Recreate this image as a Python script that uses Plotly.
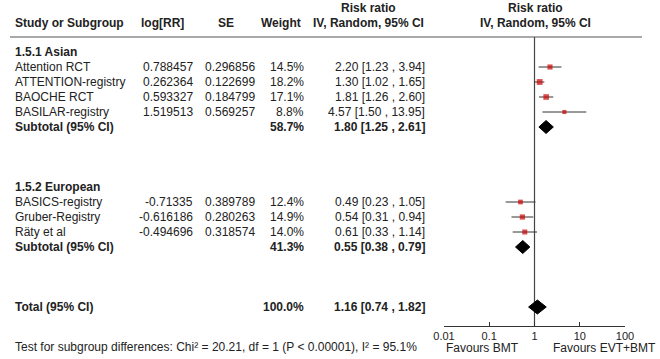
import plotly.graph_objects as go

# ---------------- data ----------------
asian_names = ["Attention RCT", "ATTENTION-registry", "BAOCHE RCT", "BASILAR-registry"]
asian_logrr = [0.788457, 0.262364, 0.593327, 1.519513]
asian_se = [0.296856, 0.122699, 0.184799, 0.569257]
asian_weight = [14.5, 18.2, 17.1, 8.8]
asian_rr = [2.20, 1.30, 1.81, 4.57]
asian_lo = [1.23, 1.02, 1.26, 1.50]
asian_hi = [3.94, 1.65, 2.60, 13.95]

euro_names = ["BASICS-registry", "Gruber-Registry", "Räty et al"]
euro_logrr = [-0.71335, -0.616186, -0.494696]
euro_se = [0.389789, 0.280263, 0.318574]
euro_weight = [12.4, 14.9, 14.0]
euro_rr = [0.49, 0.54, 0.61]
euro_lo = [0.23, 0.31, 0.33]
euro_hi = [1.05, 0.94, 1.14]

group_labels = ["1.5.1 Asian", "1.5.2 European"]
subtotal_weight = [58.7, 41.3]
subtotal_rr = [1.80, 0.55]
subtotal_lo = [1.25, 0.38]
subtotal_hi = [2.61, 0.79]

total_weight = 100.0
total_rr = 1.16
total_lo = 0.74
total_hi = 1.82

tick_vals = [0.01, 0.1, 1, 10, 100]
tick_text = ["0.01", "0.1", "1", "10", "100"]
favours_left = "Favours BMT"
favours_right = "Favours EVT+BMT"
test_text = "Test for subgroup differences: Chi² = 20.21, df = 1 (P < 0.00001), I² = 95.1%"

# ---------------- layout helpers ----------------
W, H = 660, 359
FONT = "Liberation Sans, Arial, sans-serif"
TXT = "#222222"
FS = 12
ROW0, ROWH = 52, 15
AXIS_Y = 326


def ry(i):
    return ROW0 + ROWH * i


def px(x):
    return x / W


annotations = []


def txt(x, y, s, anchor="left", bold=False, size=FS):
    annotations.append(dict(
        x=px(x), y=y, xref="paper", yref="y", text=("<b>%s</b>" % s) if bold else s,
        showarrow=False, xanchor=anchor, yanchor="middle",
        font=dict(family=FONT, size=size, color=TXT)))


# header
txt(13, 23, "Study or Subgroup", bold=True)
txt(162, 23, "log[RR]", anchor="center", bold=True)
txt(226, 23, "SE", anchor="center", bold=True)
txt(281, 23, "Weight", anchor="center", bold=True)
txt(368, 8, "Risk ratio", anchor="center", bold=True)
txt(368, 23, "IV, Random, 95% CI", anchor="center", bold=True)
txt(535, 8, "Risk ratio", anchor="center", bold=True)
txt(535, 23, "IV, Random, 95% CI", anchor="center", bold=True)

groups = [
    (asian_names, asian_logrr, asian_se, asian_weight, asian_rr, asian_lo, asian_hi, 0),
    (euro_names, euro_logrr, euro_se, euro_weight, euro_rr, euro_lo, euro_hi, 9),
]

ci_x, ci_y, sq_x, sq_y, sq_s = [], [], [], [], []
diamonds = []

for gi, (names, lr, se, w, rr, lo, hi, start) in enumerate(groups):
    txt(13, ry(start), group_labels[gi], bold=True)
    for k in range(len(names)):
        y = ry(start + 1 + k)
        txt(13, y, names[k])
        txt(195, y, repr(lr[k]), anchor="right")
        txt(257, y, repr(se[k]), anchor="right")
        txt(306, y, "%.1f%%" % w[k], anchor="right")
        txt(427, y, "%.2f [%.2f , %.2f]" % (rr[k], lo[k], hi[k]), anchor="right")
        ci_x += [lo[k], hi[k], None]
        ci_y += [y, y, None]
        sq_x.append(rr[k])
        sq_y.append(y)
        sq_s.append(2.5 + w[k] / 5.5)
    ys = ry(start + 1 + len(names))
    txt(13, ys, "Subtotal (95% CI)", bold=True)
    txt(306, ys, "%.1f%%" % subtotal_weight[gi], anchor="right", bold=True)
    txt(427, ys, "%.2f [%.2f , %.2f]" % (subtotal_rr[gi], subtotal_lo[gi], subtotal_hi[gi]),
        anchor="right", bold=True)
    diamonds.append((subtotal_lo[gi], subtotal_rr[gi], subtotal_hi[gi], ys, 6.5))

yt = ry(17)
txt(13, yt, "Total (95% CI)", bold=True)
txt(306, yt, "%.1f%%" % total_weight, anchor="right", bold=True)
txt(427, yt, "%.2f [%.2f , %.2f]" % (total_rr, total_lo, total_hi), anchor="right", bold=True)
diamonds.append((total_lo, total_rr, total_hi, yt, 7))

txt(13, 347, test_text)
txt(482, 348, favours_left, anchor="center")
txt(604, 348, favours_right, anchor="center")

fig = go.Figure()

fig.add_trace(go.Scatter(x=ci_x, y=ci_y, mode="lines",
                         line=dict(color="#333333", width=1), hoverinfo="skip", cliponaxis=False))
fig.add_trace(go.Scatter(x=sq_x, y=sq_y, mode="markers",
                         marker=dict(symbol="square", color="#cc0000", size=sq_s, line=dict(width=0)),
                         hoverinfo="skip", cliponaxis=False))
for lo, est, hi, yc, h in diamonds:
    fig.add_trace(go.Scatter(x=[lo, est, hi, est, lo], y=[yc, yc - h, yc, yc + h, yc],
                             mode="lines", fill="toself", fillcolor="black",
                             line=dict(color="black", width=1), hoverinfo="skip"))

shapes = [
    dict(type="line", xref="paper", yref="y", x0=px(10), x1=px(642), y0=37, y1=37,
         line=dict(color="#555555", width=1.2)),
    dict(type="line", xref="x", yref="y", x0=1, x1=1, y0=37, y1=AXIS_Y,
         line=dict(color="#444444", width=1.2), layer="below"),
]

fig.update_layout(
    width=W, height=H,
    autosize=False,
    margin=dict(l=0, r=0, t=0, b=0, pad=0, autoexpand=False),
    paper_bgcolor="white", plot_bgcolor="white",
    showlegend=False,
    annotations=annotations,
    shapes=shapes,
    xaxis=dict(type="log", range=[-2, 2], domain=[px(444), px(625)],
               anchor="free", position=1 - AXIS_Y / H,
               tickvals=tick_vals, ticktext=tick_text,
               ticks="inside", ticklen=4, tickcolor="#333333",
               showline=True, linecolor="#333333", linewidth=1,
               showgrid=False, zeroline=False,
               tickfont=dict(family=FONT, size=11, color=TXT)),
    yaxis=dict(range=[H, 0], domain=[0, 1], visible=False, showgrid=False, zeroline=False),
)

fig.write_html(
    "out.html",
    config={"responsive": False, "displayModeBar": False},
    post_script="document.body.style.margin='0px';document.body.style.overflow='hidden';",
)
